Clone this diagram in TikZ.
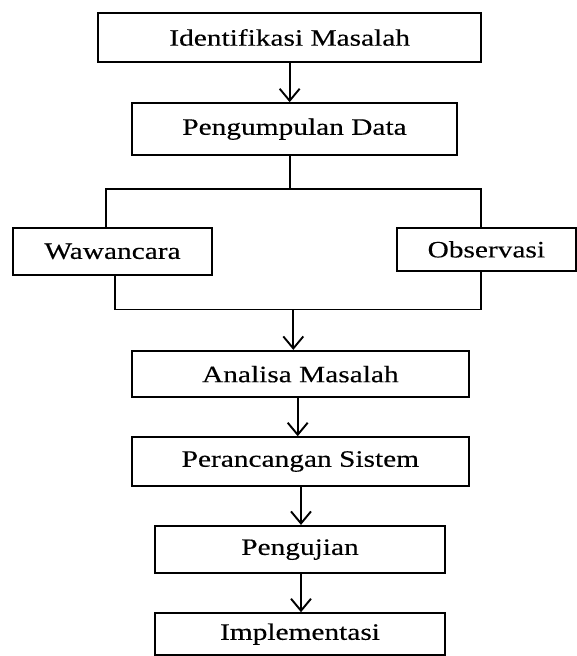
\documentclass[tikz,border=0pt]{standalone}
\usepackage{fontspec}
\setmainfont{Liberation Serif}[FakeStretch=1.25,FakeBold=0.3]
\usetikzlibrary{arrows.meta}
\begin{document}
\begin{tikzpicture}[x=1pt,y=-1pt,
  box/.style={draw, line width=2.2pt, inner sep=0pt, align=center,
    font=\fontsize{23.5}{28}\selectfont},
  conn/.style={line width=1.9pt},
  arr/.style={line width=1.9pt, -{Straight Barb[length=12pt,width=20pt]}}]
\useasboundingbox[fill=white] (0,0) rectangle (577,656);
% boxes
\node[box, minimum width=382.7pt, minimum height=48.4pt] (b1) at (289.65,37.5) {Identifikasi Masalah};
\node[box, minimum width=325.6pt, minimum height=51.7pt] (b2) at (294.5,129.15) {Pengumpulan Data};
\node[box, minimum width=198.4pt, minimum height=47.3pt] (waw) at (112.5,251.35) {Wawancara};
\node[box, minimum width=179.3pt, minimum height=43.3pt] (obs) at (486.35,249.35) {Observasi};
\node[box, minimum width=337.3pt, minimum height=46.3pt] (ana) at (300.35,374.15) {Analisa Masalah};
\node[box, minimum width=337.3pt, minimum height=48.4pt] (per) at (300.35,461.5) {Perancangan Sistem};
\node[box, minimum width=290pt, minimum height=47.3pt] (pen) at (300,549.65) {Pengujian};
\node[box, minimum width=290pt, minimum height=41.7pt] (imp) at (300,634.15) {Implementasi};
% helper coordinates
\coordinate (xl) at (106,0);
\coordinate (xr) at (480.7,0);
\coordinate (xb) at (115,0);
\coordinate (xm) at (293.3,0);
\coordinate (xa) at (297.7,0);
\coordinate (xc) at (301,0);
\coordinate (ytop) at (0,189.3);
\coordinate (ybot) at (0,309.5);
% connectors
\draw[arr] (b1.south) -- (b2.north -| b1.south);
\draw[conn] (b2.south -| b1.south) -- (ytop -| b1.south);
\draw[conn] (waw.north -| xl) |- (ytop -| xr) -- (obs.north -| xr);
\draw[conn] (waw.south -| xb) |- (ybot -| xr) -- (obs.south -| xr);
\draw[arr] (ybot -| xm) -- (ana.north -| xm);
\draw[arr] (ana.south -| xa) -- (per.north -| xa);
\draw[arr] (per.south -| xc) -- (pen.north -| xc);
\draw[arr] (pen.south -| xc) -- (imp.north -| xc);
\end{tikzpicture}
\end{document}
